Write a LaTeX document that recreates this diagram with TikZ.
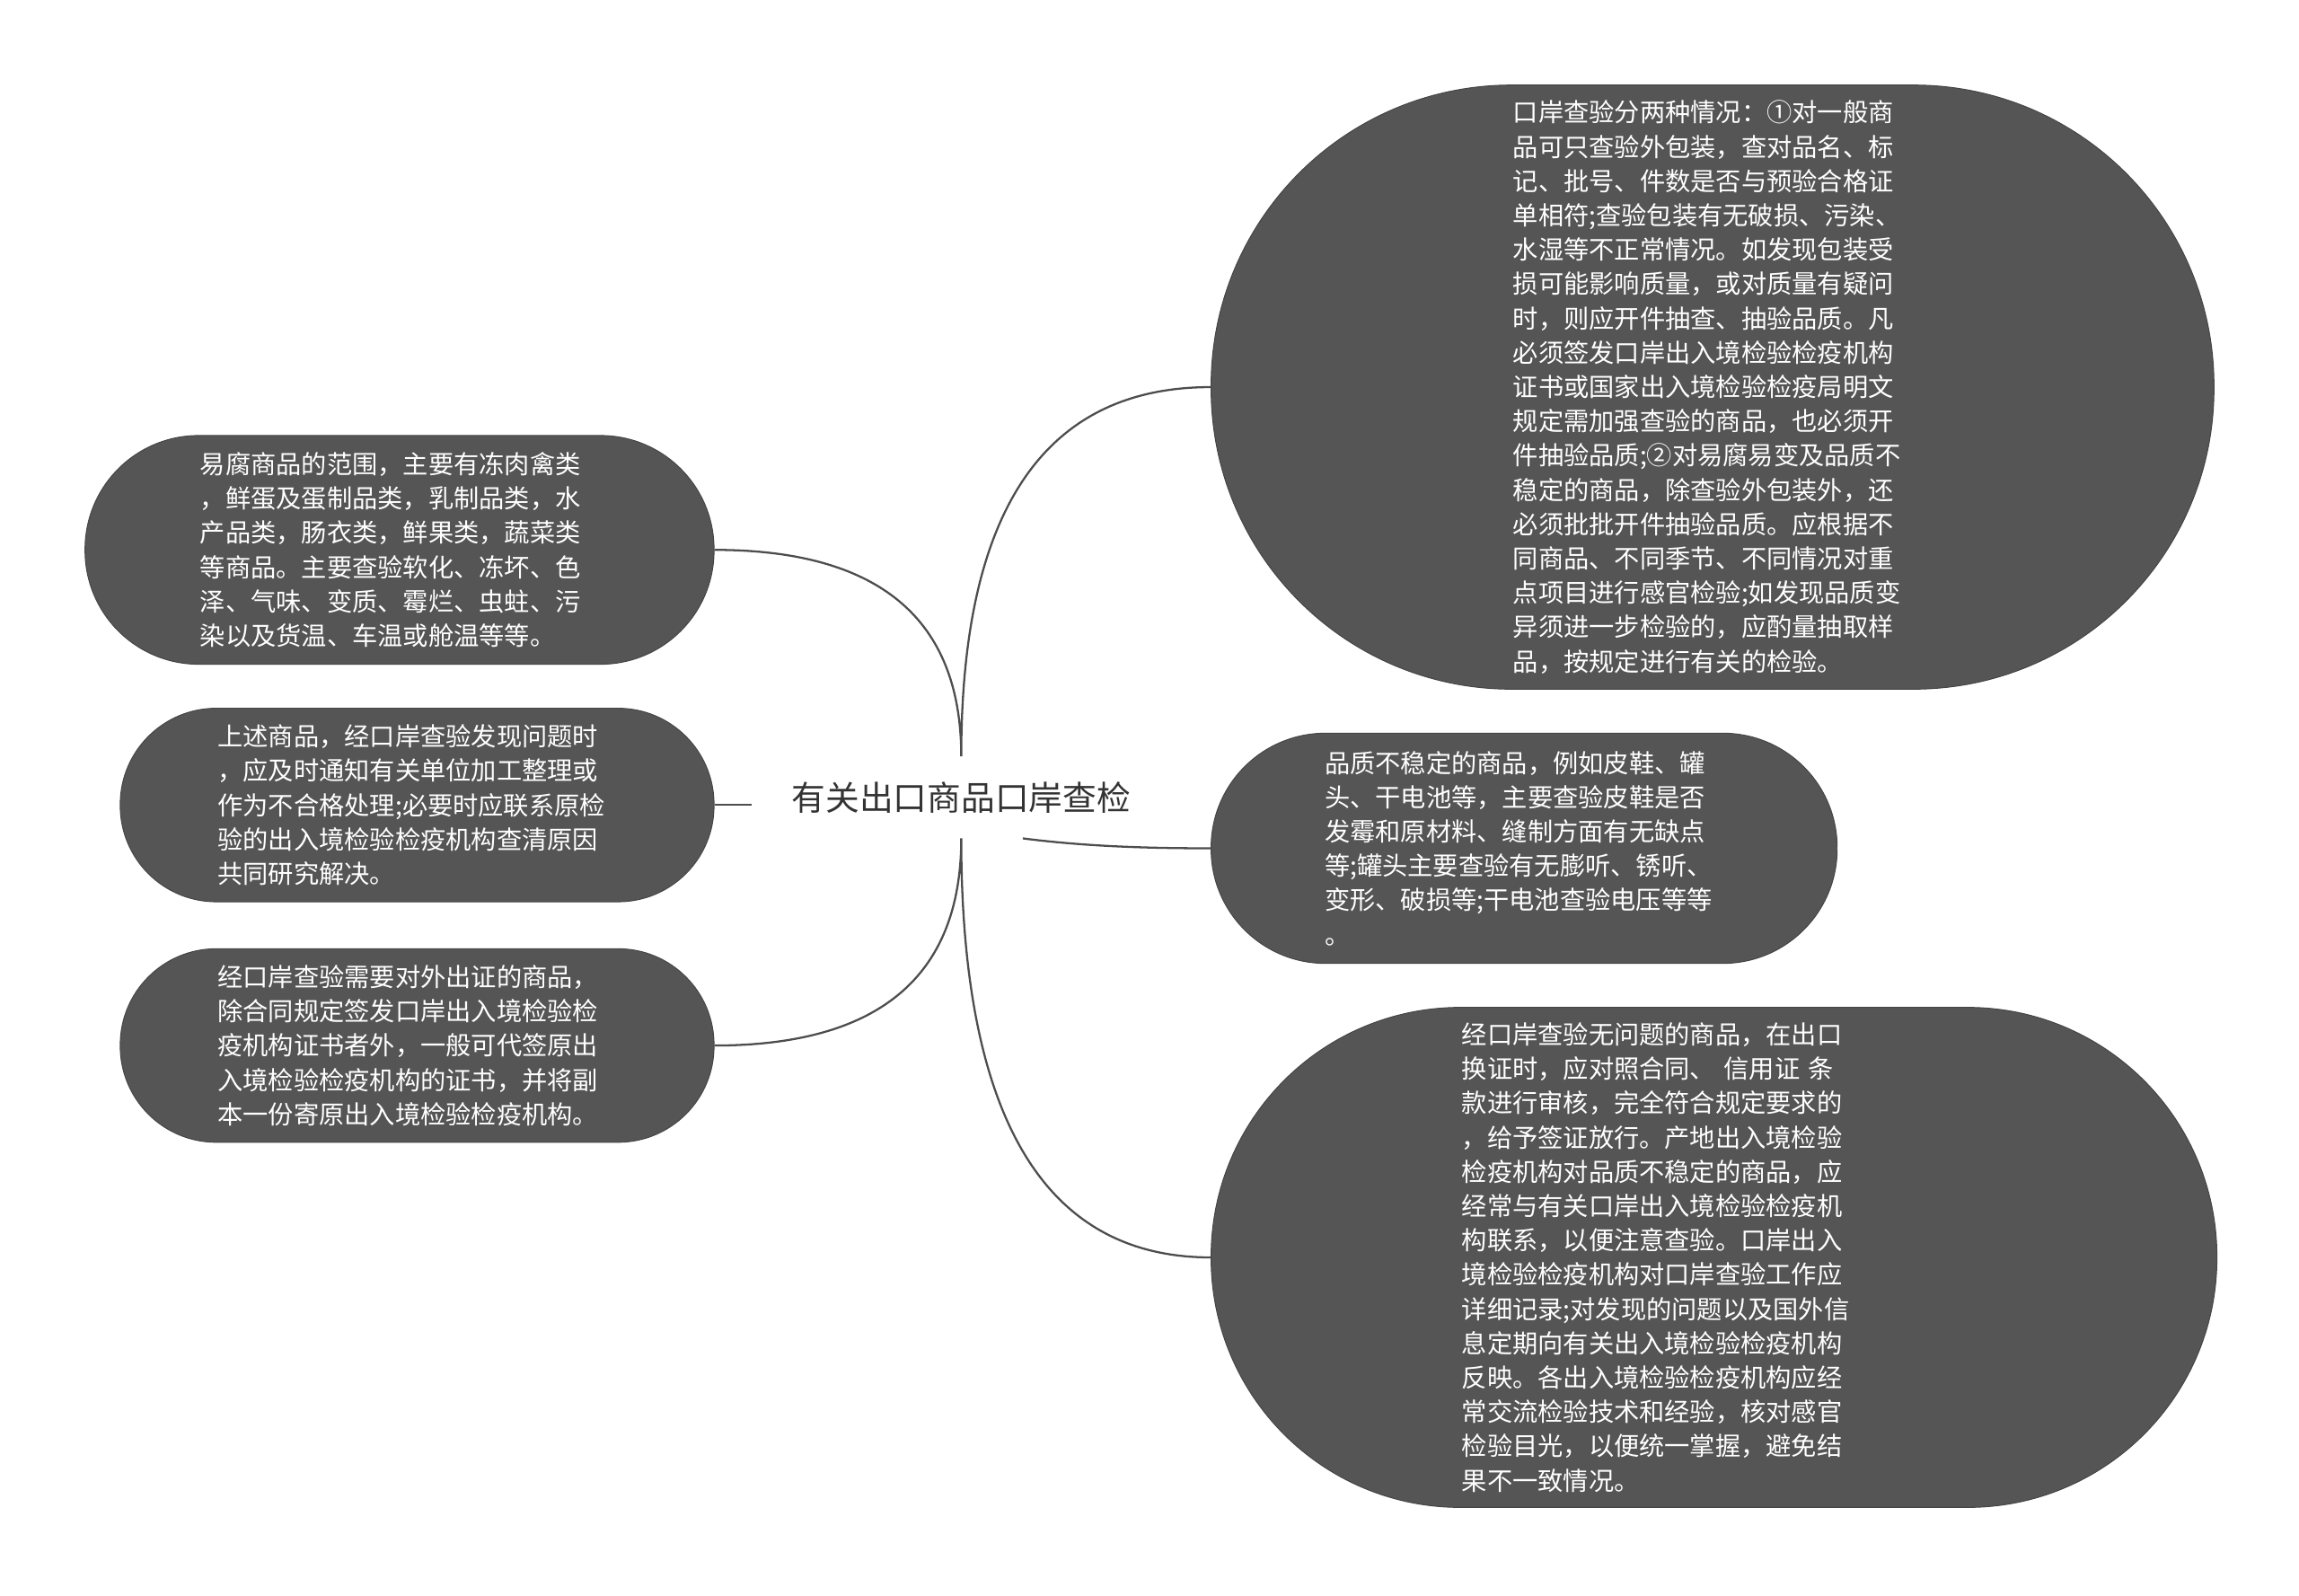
\documentclass[tikz,border=0pt]{standalone}
\usepackage{fontspec}
\usepackage{xcolor}
\usepackage{tikz}
\usetikzlibrary{calc}
\newfontfamily\cjk{Noto Sans CJK SC}
\definecolor{boxgray}{HTML}{555555}
\definecolor{rimgray}{HTML}{454545}
\definecolor{linegray}{HTML}{4D4D4D}
\definecolor{rootgray}{HTML}{333333}

\begin{document}
\begin{tikzpicture}
      [ x=1pt, y=1pt,
        idea/.style={rectangle, fill=boxgray, draw=rimgray, line width=0.6pt,
                     text=white, align=left, text width=272pt, inner sep=0pt,
                     font=\cjk\fontsize{17.3}{23.4}\selectfont},
        branch/.style={draw=linegray, line width=1.4pt,
                       to path={.. controls ($(\tikztostart)!2/3!(\tikztostart|-\tikztotarget)$)
                                and ($(\tikztotarget)!2/3!(\tikztostart|-\tikztotarget)$) .. (\tikztotarget)}}
      ]
      \useasboundingbox (0,0) rectangle (1568,-1088.4);

      \node[font=\cjk\fontsize{23.1}{27}\selectfont, text=rootgray,
            inner xsep=27pt, inner ysep=0pt, minimum height=55.5pt]
            (root) at (655.6,-543.8) {有关出口商品口岸查检};

      % left side
      \node[idea, minimum width=429pt, minimum height=156pt, rounded corners=77.5pt]
            (perish) at (272.5,-375)
            {易腐商品的范围，主要有冻肉禽类\\，鲜蛋及蛋制品类，乳制品类，水\\产品类，肠衣类，鲜果类，蔬菜类\\
             等商品。主要查验软化、冻坏、色\\泽、气味、变质、霉烂、虫蛀、污\\染以及货温、车温或舱温等等。};
      \node[idea, minimum width=405pt, minimum height=132pt, rounded corners=65.5pt]
            (defect) at (284.5,-549)
            {上述商品，经口岸查验发现问题时\\，应及时通知有关单位加工整理或\\作为不合格处理;必要时应联系原检\\
             验的出入境检验检疫机构查清原因\\共同研究解决。};
      \node[idea, minimum width=405pt, minimum height=132pt, rounded corners=65.5pt]
            (cert) at (284.5,-713)
            {经口岸查验需要对外出证的商品，\\除合同规定签发口岸出入境检验检\\疫机构证书者外，一般可代签原出\\
             入境检验检疫机构的证书，并将副\\本一份寄原出入境检验检疫机构。};

      % right side
      \node[idea, minimum width=684pt, minimum height=412pt, rounded corners=205pt]
            (inspect) at (1168,-264)
            {口岸查验分两种情况：①对一般商\\品可只查验外包装，查对品名、标\\记、批号、件数是否与预验合格证\\
             单相符;查验包装有无破损、污染、\\水湿等不正常情况。如发现包装受\\损可能影响质量，或对质量有疑问\\
             时，则应开件抽查、抽验品质。凡\\必须签发口岸出入境检验检疫机构\\证书或国家出入境检验检疫局明文\\
             规定需加强查验的商品，也必须开\\件抽验品质;②对易腐易变及品质不\\稳定的商品，除查验外包装外，还\\
             必须批批开件抽验品质。应根据不\\同商品、不同季节、不同情况对重\\点项目进行感官检验;如发现品质变\\
             异须进一步检验的，应酌量抽取样\\品，按规定进行有关的检验。};
      \node[idea, minimum width=427pt, minimum height=157pt, rounded corners=78pt]
            (unstable) at (1039.5,-578.5)
            {品质不稳定的商品，例如皮鞋、罐\\头、干电池等，主要查验皮鞋是否\\发霉和原材料、缝制方面有无缺点\\
             等;罐头主要查验有无膨听、锈听、\\变形、破损等;干电池查验电压等等\\。};
      \node[idea, text width=344pt, minimum width=686pt, minimum height=341pt, rounded corners=170pt]
            (pass) at (1169,-857.5)
            {经口岸查验无问题的商品，在出口\\换证时，应对照合同、 信用证 条\\款进行审核，完全符合规定要求的\\
             ，给予签证放行。产地出入境检验\\检疫机构对品质不稳定的商品，应\\经常与有关口岸出入境检验检疫机\\
             构联系，以便注意查验。口岸出入\\境检验检疫机构对口岸查验工作应\\详细记录;对发现的问题以及国外信\\
             息定期向有关出入境检验检疫机构\\反映。各出入境检验检疫机构应经\\常交流检验技术和经验，核对感官\\
             检验目光，以便统一掌握，避免结\\果不一致情况。};

      \path[branch] (root.north) to (perish.east)
                    (root.north) to (inspect.west)
                    (root.south) to (cert.east)
                    (root.south) to (pass.west);
      \draw[linegray, line width=1.4pt] (defect.east) -- (defect.east -| root.west);
      \draw[linegray, line width=1.4pt] ([xshift=42pt]root.south)
            .. controls +(43,-5.5) and +(-43,0) .. (unstable.west);
    \end{tikzpicture}
\end{document}
